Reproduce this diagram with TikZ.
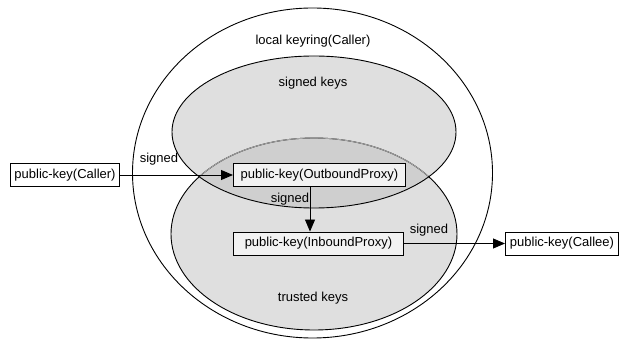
\documentclass[tikz,border=0pt]{standalone}
\usepackage{fontspec}
\setmainfont{Liberation Sans}
\usetikzlibrary{arrows.meta}
\definecolor{ellfill}{HTML}{DFDFDF}
\definecolor{ovfill}{HTML}{CFCFCF}
\definecolor{boxfill}{HTML}{F2F2F2}
\tikzset{
  keybox/.style={draw=black, fill=boxfill, line width=0.9pt, inner xsep=4pt, inner ysep=0pt, minimum height=23pt, font=\fontsize{13}{15}\selectfont},
  outbox/.style={keybox, fill=white},
  lbl/.style={inner sep=0pt, font=\fontsize{13}{15}\selectfont},
  conn/.style={line width=0.9pt, -{Triangle[length=12pt,width=10pt]}},
  ell/.style={line width=0.9pt}
}
\begin{document}
\begin{tikzpicture}[x=1pt,y=-1pt]
\useasboundingbox (0,0) rectangle (629,339);
% outer
\draw[ell, fill=white] (312.5,173) ellipse [x radius=180, y radius=165];
% fills
\fill[ellfill] (314,234) ellipse [x radius=143, y radius=96];
\fill[ellfill] (314,132) ellipse [x radius=142, y radius=76];
\begin{scope}
  \clip (314,132) ellipse [x radius=142, y radius=76];
  \fill[ovfill] (314,234) ellipse [x radius=143, y radius=96];
\end{scope}
\draw[ell] (314,234) ellipse [x radius=143, y radius=96];
\begin{scope}
  \clip (314,132) ellipse [x radius=141.5, y radius=75.5];
  \draw[line width=0.9pt, gray!70] (314,234) ellipse [x radius=143, y radius=96];
\end{scope}
\draw[ell] (314,132) ellipse [x radius=142, y radius=76];
% texts
\node[lbl] (ring) at (313,41) {local keyring(Caller)};
\node[lbl] (sk) at (313,83) {signed keys};
\node[lbl] (tk) at (313,298) {trusted keys};
% boxes
\node[outbox, minimum width=108pt, anchor=west] (caller) at (10,175) {public-key(Caller)};
\node[keybox, minimum width=172pt, anchor=west] (outb) at (233,175) {public-key(OutboundProxy)};
\node[keybox, minimum width=170pt, anchor=west] (inb) at (233,243.5) {public-key(InboundProxy)};
\node[outbox, minimum width=113pt, anchor=west] (callee) at (505,243.5) {public-key(Callee)};
\coordinate (ax) at (310,0);
% connectors
\draw[conn] (caller.east) -- (outb.west);
\draw[conn] (outb.south -| ax) -- (inb.north -| ax);
\draw[conn] (inb.east) -- (callee.west);
% labels
\node[lbl] (s1) at (159,159) {signed};
\node[lbl] (s2) at (290,199) {signed};
\node[lbl] (s3) at (429,230) {signed};
\end{tikzpicture}
\end{document}
